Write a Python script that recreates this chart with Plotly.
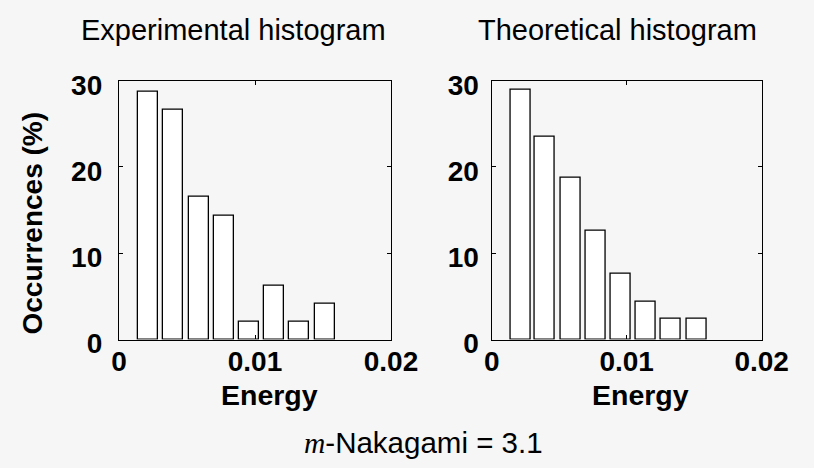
import plotly.graph_objects as go

# Histogram bin centres (energy) and occurrence percentages per bin
energy_centers = [0.00213, 0.00395, 0.00585, 0.0077, 0.00956, 0.01141, 0.01326, 0.01515]
experimental_pct = [28.7, 26.6, 16.5, 14.4, 2.1, 6.2, 2.1, 4.1]
theoretical_pct = [28.9, 23.5, 18.8, 12.6, 7.6, 4.4, 2.4, 2.4]

panel_titles = ["Experimental histogram", "Theoretical histogram"]
x_title = "Energy"
y_title = "Occurrences (%)"
x_tickvals = [0, 0.01, 0.02]
x_ticktext = ["0", "0.01", "0.02"]
y_tickvals = [0, 10, 20, 30]
bar_width = 0.00148

W, H = 814, 468
BG = "#f6f6f6"
SANS = "Liberation Sans, Arial, sans-serif"


def px_x(v):
    return v / W


def px_y(v):
    return 1 - v / H


fig = go.Figure()
bar_style = dict(width=bar_width, marker=dict(color="white", line=dict(color="black", width=1.3)),
                 showlegend=False, hoverinfo="x+y")
fig.add_trace(go.Bar(x=energy_centers, y=experimental_pct, xaxis="x", yaxis="y", **bar_style))
fig.add_trace(go.Bar(x=energy_centers, y=theoretical_pct, xaxis="x2", yaxis="y2", **bar_style))

tick_font = dict(family=SANS, size=28, color="black", weight="bold")
common = dict(showline=True, linecolor="black", linewidth=1.3, mirror="ticks",
              ticks="inside", ticklen=4, tickcolor="black", tickwidth=1.3,
              showgrid=False, zeroline=False, tickfont=tick_font, fixedrange=True,
              automargin=False)

xdom1 = [px_x(119), px_x(391)]
xdom2 = [px_x(491.7), px_x(761.7)]
ydom = [px_y(339.5), px_y(80.7)]

fig.update_layout(
    width=W, height=H,
    autosize=False,
    margin=dict(l=0, r=0, t=0, b=0, pad=0, autoexpand=False),
    paper_bgcolor=BG, plot_bgcolor=BG,
    showlegend=False,
    bargap=0,
    xaxis=dict(domain=xdom1, range=[0, 0.02], tickvals=x_tickvals, ticktext=x_ticktext,
               anchor="y", ticklabelstandoff=-3, **common),
    yaxis=dict(domain=ydom, range=[0, 30], tickvals=y_tickvals, anchor="x",
               ticklabelstandoff=10, ticklabelshift=4, **common),
    xaxis2=dict(domain=xdom2, range=[0, 0.02], tickvals=x_tickvals, ticktext=x_ticktext,
                anchor="y2", ticklabelstandoff=-3, **common),
    yaxis2=dict(domain=ydom, range=[0, 30], tickvals=y_tickvals, anchor="x2",
                ticklabelstandoff=6, ticklabelshift=4, **common),
)

title_font = dict(family=SANS, size=29, color="black")
label_font = dict(family=SANS, size=28.5, color="black", weight="bold")

annotations = [
    dict(text=panel_titles[0], x=px_x(233.8), y=px_y(29.5), font=title_font),
    dict(text=panel_titles[1], x=px_x(617.5), y=px_y(29.5), font=title_font),
    dict(text=x_title, x=px_x(269), y=px_y(395), font=label_font),
    dict(text=x_title, x=px_x(640), y=px_y(395), font=label_font),
    dict(text=y_title, x=px_x(31.5), y=px_y(223), font=dict(label_font, size=28), textangle=-90),
    dict(text='<span style="font-family:Liberation Serif;font-style:italic">m</span>-Nakagami = 3.1',
         x=px_x(423), y=px_y(442), font=dict(family=SANS, size=29.5, color="black")),
]
for a in annotations:
    a.update(xref="paper", yref="paper", showarrow=False, xanchor="center", yanchor="middle")
fig.update_layout(annotations=annotations)

fig.write_html("out.html")
